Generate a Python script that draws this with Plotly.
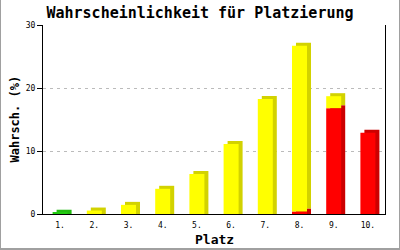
import plotly.graph_objects as go

# ---- data ----
places = ["1.", "2.", "3.", "4.", "5.", "6.", "7.", "8.", "9.", "10."]
green = [0.2, 0, 0, 0, 0, 0, 0, 0, 0, 0]
red = [0, 0, 0, 0, 0, 0, 0, 0.4, 16.8, 12.9]
yellow = [0, 0.55, 1.45, 4.0, 6.35, 11.1, 18.25, 26.3, 1.9, 0]

# ---- style / geometry ----
W, H = 400, 250
ML, MR, MT, MB = 43, 15, 25, 36
PW, PH = W - ML - MR, H - MT - MB
YMAX = 30
XR = (0.5, 10.5)
px_x = PW / (XR[1] - XR[0])
px_y = PH / YMAX
DX = 4 / px_x          # depth offset in data units
DY = 3 / px_y
BW = 15 / px_x         # bar width
MONO = "DejaVu Sans Mono"

series = [
    (green, "#22cc11", "#22bb11"),
    (red, "#ff0000", "#cc0000"),
    (yellow, "#ffff00", "#d2d200"),
]

xs = list(range(1, len(places) + 1))
fig = go.Figure()

# compute stacked bases
bases = []
cum = [0.0] * len(places)
for vals, _, _ in series:
    bases.append(cum[:])
    cum = [c + v for c, v in zip(cum, vals)]

# shadows (depth) first
for (vals, front, side), base in zip(series, bases):
    sb, sh = [], []
    for v, b in zip(vals, base):
        if v <= 0:
            sb.append(0); sh.append(0)
            continue
        lo = 0 if b == 0 else b + DY
        hi = b + v + DY
        sb.append(lo); sh.append(hi - lo)
    fig.add_trace(go.Bar(x=xs, y=sh, base=sb, width=BW, offset=-BW / 2 + DX,
                         marker=dict(color=side, line=dict(width=0)),
                         hoverinfo="skip", showlegend=False))

# fronts
for (vals, front, side), base in zip(series, bases):
    fig.add_trace(go.Bar(x=xs, y=vals, base=base, width=BW, offset=-BW / 2,
                         marker=dict(color=front, line=dict(width=0)),
                         showlegend=False))

fig.update_layout(
    width=W, height=H,
    margin=dict(l=ML, r=MR, t=MT, b=MB),
    paper_bgcolor="white", plot_bgcolor="white",
    barmode="overlay",
    title=dict(text="<b>Wahrscheinlichkeit für Platzierung</b>",
               x=0.5, xref="paper", xanchor="center",
               y=1 - 12.5 / H, yref="container", yanchor="middle",
               font=dict(family=MONO, size=15, color="black")),
    font=dict(family=MONO, color="black"),
)
fig.update_layout(title_x=(W / 2 - ML) / PW)

fig.update_xaxes(range=list(XR), tickvals=xs, ticktext=places,
                 showline=True, linecolor="black", linewidth=1,
                 showgrid=False, zeroline=False, ticks="outside", ticklen=3,
                 tickcolor="white", tickfont=dict(family=MONO, size=8))
fig.update_yaxes(range=[0, YMAX], dtick=10, showline=True, linecolor="black",
                 linewidth=1, mirror=True, ticks="outside", ticklen=5,
                 tickcolor="black", showgrid=True, gridcolor="#bbbbbb",
                 griddash="3px,4px", zeroline=False,
                 tickfont=dict(family=MONO, size=8))

fig.add_annotation(text="<b>Wahrsch. (%)</b>", xref="paper", yref="paper",
                   x=(14 - ML) / PW, y=0.5, textangle=-90, showarrow=False,
                   xanchor="center", yanchor="middle",
                   font=dict(family=MONO, size=12, color="black"))
fig.add_annotation(text="<b>Platz</b>", xref="paper", yref="paper",
                   x=0.5, y=-(239.5 - (MT + PH)) / PH, showarrow=False,
                   xanchor="center", yanchor="middle",
                   font=dict(family=MONO, size=13, color="black"))

# outer frame (left, right, bottom)
L, R = -ML / PW, 1 + MR / PW
B, T = -MB / PH, 1 + MT / PH
for x0, y0, x1, y1, w in [(L, B, L, T, 2), (R, B, R, T, 2), (L, B, R, B, 4)]:
    fig.add_shape(type="line", xref="paper", yref="paper", x0=x0, y0=y0,
                  x1=x1, y1=y1, line=dict(color="#a0a0a0", width=w))

fig.write_html("out.html")
